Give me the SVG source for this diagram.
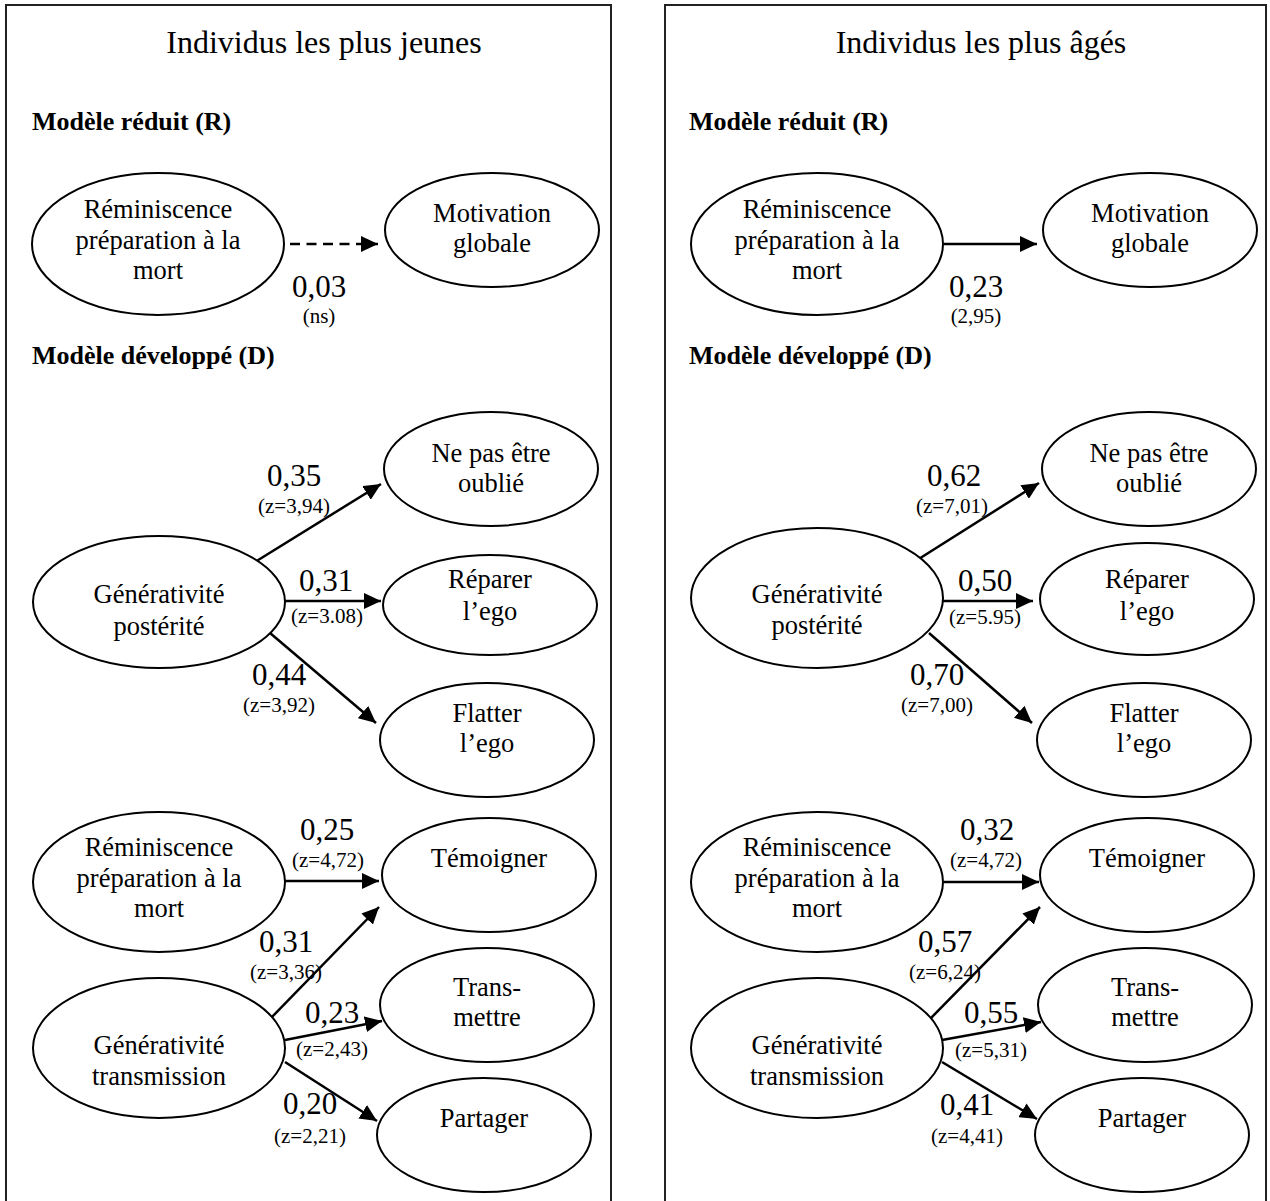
<svg xmlns="http://www.w3.org/2000/svg" width="1270" height="1201" viewBox="0 0 1270 1201">
<defs>
<style>
text{font-family:"Liberation Serif","Times New Roman",serif;fill:#000}
.t{font-size:32px;text-anchor:middle}
.h{font-size:26px;font-weight:bold}
.n{font-size:26.5px;text-anchor:middle}
.c{font-size:31px;text-anchor:middle}
.z{font-size:21px;text-anchor:middle}
.panel{fill:none;stroke:#222;stroke-width:2}
ellipse{fill:#fff;stroke:#000;stroke-width:2}
.e{stroke:#000;stroke-width:2.5;fill:none;marker-end:url(#ah)}
.d{stroke-dasharray:10 6.5}
</style>
<marker id="ah" markerUnits="userSpaceOnUse" markerWidth="17" markerHeight="16" refX="17" refY="8" orient="auto">
<path d="M0,0 L17,8 L0,16 z" fill="#000"/>
</marker>
</defs>
<rect class="panel" x="6" y="5" width="605" height="1210"/>
<rect class="panel" x="665" y="5" width="601" height="1210"/>
<text class="t" x="324" y="53">Individus les plus jeunes</text>
<text class="t" x="981" y="53">Individus les plus âgés</text>
<text class="h" x="32" y="130">Modèle réduit (R)</text>
<text class="h" x="689" y="130">Modèle réduit (R)</text>
<text class="h" x="32" y="364">Modèle développé (D)</text>
<text class="h" x="689" y="364">Modèle développé (D)</text>
<g id="connectors">
<line class="e d" x1="290" y1="244" x2="378" y2="244"/>
<line class="e" x1="255" y1="562" x2="381" y2="484"/>
<line class="e" x1="285" y1="601" x2="381" y2="601"/>
<line class="e" x1="270" y1="633" x2="376" y2="723"/>
<line class="e" x1="285" y1="881" x2="379" y2="881"/>
<line class="e" x1="270" y1="1019" x2="379" y2="907"/>
<line class="e" x1="285" y1="1040" x2="382" y2="1021"/>
<line class="e" x1="285" y1="1062" x2="377" y2="1121"/>
<line class="e" x1="944" y1="244" x2="1037" y2="244"/>
<line class="e" x1="914" y1="562" x2="1039" y2="483"/>
<line class="e" x1="943" y1="601" x2="1033" y2="601"/>
<line class="e" x1="929" y1="633" x2="1032" y2="723"/>
<line class="e" x1="944" y1="882" x2="1039" y2="882"/>
<line class="e" x1="930" y1="1019" x2="1040" y2="907"/>
<line class="e" x1="942" y1="1040" x2="1041" y2="1022"/>
<line class="e" x1="942" y1="1062" x2="1037" y2="1119"/>
</g>
<g id="edge-labels">
<text class="c" x="319" y="297">0,03</text><text class="z" x="319" y="323">(ns)</text>
<text class="c" x="294" y="486">0,35</text><text class="z" x="294" y="513">(z=3,94)</text>
<text class="c" x="326" y="591">0,31</text><text class="z" x="327" y="623">(z=3.08)</text>
<text class="c" x="279" y="685">0,44</text><text class="z" x="279" y="712">(z=3,92)</text>
<text class="c" x="327" y="840">0,25</text><text class="z" x="328" y="867">(z=4,72)</text>
<text class="c" x="286" y="952">0,31</text><text class="z" x="286" y="979">(z=3,36)</text>
<text class="c" x="332" y="1023">0,23</text><text class="z" x="332" y="1056">(z=2,43)</text>
<text class="c" x="310" y="1114">0,20</text><text class="z" x="310" y="1143">(z=2,21)</text>
<text class="c" x="976" y="297">0,23</text><text class="z" x="976" y="323">(2,95)</text>
<text class="c" x="954" y="486">0,62</text><text class="z" x="952" y="513">(z=7,01)</text>
<text class="c" x="985" y="591">0,50</text><text class="z" x="985" y="624">(z=5.95)</text>
<text class="c" x="937" y="685">0,70</text><text class="z" x="937" y="712">(z=7,00)</text>
<text class="c" x="987" y="840">0,32</text><text class="z" x="986" y="867">(z=4,72)</text>
<text class="c" x="945" y="952">0,57</text><text class="z" x="945" y="979">(z=6,24)</text>
<text class="c" x="991" y="1023">0,55</text><text class="z" x="991" y="1057">(z=5,31)</text>
<text class="c" x="967" y="1115">0,41</text><text class="z" x="967" y="1143">(z=4,41)</text>
</g>
<g id="L-rem-R"><ellipse cx="158" cy="244" rx="126" ry="71"/><text class="n" x="158" y="218">Réminiscence</text><text class="n" x="158" y="249">préparation à la</text><text class="n" x="158" y="279">mort</text></g>
<g id="L-motiv"><ellipse cx="492" cy="230" rx="107" ry="57"/><text class="n" x="492" y="222">Motivation</text><text class="n" x="492" y="252">globale</text></g>
<g id="L-oublie"><ellipse cx="491" cy="469" rx="107" ry="57"/><text class="n" x="491" y="462">Ne pas être</text><text class="n" x="491" y="492">oublié</text></g>
<g id="L-gen-post"><ellipse cx="159" cy="602" rx="126" ry="66"/><text class="n" x="159" y="603">Générativité</text><text class="n" x="159" y="635">postérité</text></g>
<g id="L-reparer"><ellipse cx="490" cy="605" rx="107" ry="50"/><text class="n" x="490" y="588">Réparer</text><text class="n" x="490" y="620">l’ego</text></g>
<g id="L-flatter"><ellipse cx="487" cy="740" rx="107" ry="57"/><text class="n" x="487" y="722">Flatter</text><text class="n" x="487" y="752">l’ego</text></g>
<g id="L-rem-D"><ellipse cx="159" cy="882" rx="126" ry="70"/><text class="n" x="159" y="856">Réminiscence</text><text class="n" x="159" y="887">préparation à la</text><text class="n" x="159" y="917">mort</text></g>
<g id="L-temoigner"><ellipse cx="489" cy="875" rx="107" ry="57"/><text class="n" x="489" y="867">Témoigner</text></g>
<g id="L-transmettre"><ellipse cx="487" cy="1005" rx="107" ry="57"/><text class="n" x="487" y="996">Trans-</text><text class="n" x="487" y="1026">mettre</text></g>
<g id="L-gen-trans"><ellipse cx="159" cy="1048" rx="126" ry="70"/><text class="n" x="159" y="1054">Générativité</text><text class="n" x="159" y="1085">transmission</text></g>
<g id="L-partager"><ellipse cx="484" cy="1135" rx="107" ry="57"/><text class="n" x="484" y="1127">Partager</text></g>
<g id="R-rem-R"><ellipse cx="817" cy="244" rx="126" ry="71"/><text class="n" x="817" y="218">Réminiscence</text><text class="n" x="817" y="249">préparation à la</text><text class="n" x="817" y="279">mort</text></g>
<g id="R-motiv"><ellipse cx="1150" cy="230" rx="107" ry="57"/><text class="n" x="1150" y="222">Motivation</text><text class="n" x="1150" y="252">globale</text></g>
<g id="R-oublie"><ellipse cx="1149" cy="469" rx="107" ry="57"/><text class="n" x="1149" y="462">Ne pas être</text><text class="n" x="1149" y="492">oublié</text></g>
<g id="R-gen-post"><ellipse cx="817" cy="598" rx="126" ry="70"/><text class="n" x="817" y="603">Générativité</text><text class="n" x="817" y="634">postérité</text></g>
<g id="R-reparer"><ellipse cx="1147" cy="599" rx="107" ry="56"/><text class="n" x="1147" y="588">Réparer</text><text class="n" x="1147" y="620">l’ego</text></g>
<g id="R-flatter"><ellipse cx="1144" cy="740" rx="107" ry="57"/><text class="n" x="1144" y="722">Flatter</text><text class="n" x="1144" y="752">l’ego</text></g>
<g id="R-rem-D"><ellipse cx="817" cy="882" rx="126" ry="70"/><text class="n" x="817" y="856">Réminiscence</text><text class="n" x="817" y="887">préparation à la</text><text class="n" x="817" y="917">mort</text></g>
<g id="R-temoigner"><ellipse cx="1147" cy="875" rx="107" ry="57"/><text class="n" x="1147" y="867">Témoigner</text></g>
<g id="R-transmettre"><ellipse cx="1145" cy="1005" rx="107" ry="57"/><text class="n" x="1145" y="996">Trans-</text><text class="n" x="1145" y="1026">mettre</text></g>
<g id="R-gen-trans"><ellipse cx="817" cy="1048" rx="126" ry="70"/><text class="n" x="817" y="1054">Générativité</text><text class="n" x="817" y="1085">transmission</text></g>
<g id="R-partager"><ellipse cx="1142" cy="1135" rx="107" ry="57"/><text class="n" x="1142" y="1127">Partager</text></g>
</svg>
